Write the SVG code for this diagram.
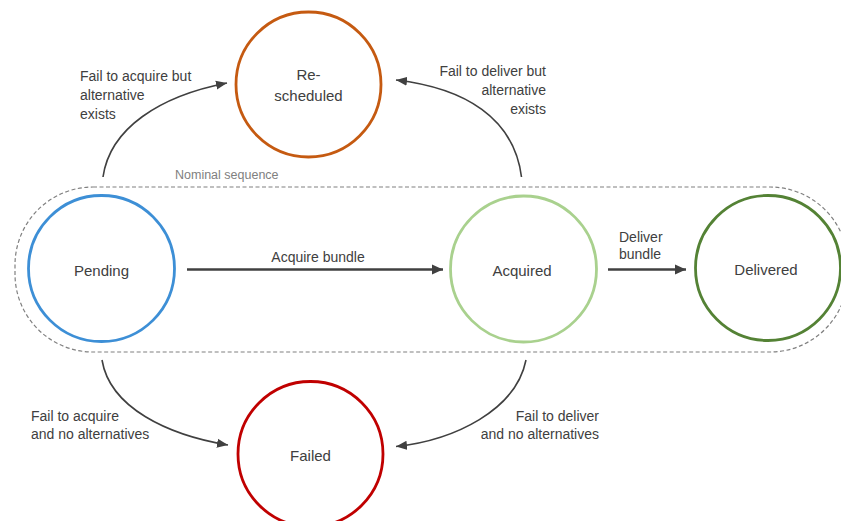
<svg xmlns="http://www.w3.org/2000/svg" width="841" height="521" viewBox="0 0 841 521">
<style>
text{font-family:"Liberation Sans",Arial,sans-serif;fill:#404040}
.node{font-size:15px;text-anchor:middle}
.lbl{font-size:14px}
.st{fill:#fff;stroke-width:2.8}
.curve{fill:none;stroke:#404040;stroke-width:1.6}
.line{fill:none;stroke:#404040;stroke-width:2.6}
</style>
<defs>
<marker id="ah" markerUnits="userSpaceOnUse" markerWidth="12" markerHeight="10" refX="11" refY="5" orient="auto"><path d="M0,0.5 L11,5 L0,9.5 z" fill="#404040"/></marker>
<marker id="ahb" markerUnits="userSpaceOnUse" markerWidth="12" markerHeight="12" refX="11" refY="6" orient="auto"><path d="M0,1 L11,6 L0,11 z" fill="#404040"/></marker>
</defs>
<rect width="841" height="521" fill="#fff"/>
<g id="nominal">
<rect x="15" y="187" width="833" height="165" rx="78" ry="78" fill="none" stroke="#808080" stroke-width="1.2" stroke-dasharray="4,2.5"/>
<text x="175" y="179" style="font-size:12.5px;fill:#808080">Nominal sequence</text>
</g>
<g id="connectors">
<path class="line" d="M187,269.5 L443,269.5" marker-end="url(#ahb)"/>
<text class="lbl" x="318" y="262" text-anchor="middle">Acquire bundle</text>
<path class="line" d="M608,269.5 L686,269.5" marker-end="url(#ahb)"/>
<text class="lbl" x="619" y="242">Deliver</text>
<text class="lbl" x="619" y="259">bundle</text>
<path class="curve" d="M103,177 C110,128 160,96 227,83" marker-end="url(#ah)"/>
<text class="lbl" x="80" y="81">Fail to acquire but</text>
<text class="lbl" x="80" y="100">alternative</text>
<text class="lbl" x="80" y="119">exists</text>
<path class="curve" d="M521.5,177 C514,118 465,88 396,80" marker-end="url(#ah)"/>
<text class="lbl" x="546" y="76" text-anchor="end">Fail to deliver but</text>
<text class="lbl" x="546" y="95" text-anchor="end">alternative</text>
<text class="lbl" x="546" y="114" text-anchor="end">exists</text>
<path class="curve" d="M102,360 C110,408 168,435 228,445" marker-end="url(#ah)"/>
<text class="lbl" x="31" y="421">Fail to acquire</text>
<text class="lbl" x="31" y="439">and no alternatives</text>
<path class="curve" d="M526,360 C516,410 455,440 396,446.5" marker-end="url(#ah)"/>
<text class="lbl" x="599" y="421" text-anchor="end">Fail to deliver</text>
<text class="lbl" x="599" y="439" text-anchor="end">and no alternatives</text>
</g>
<g id="rescheduled">
<circle class="st" cx="308.5" cy="84.5" r="72.5" stroke="#C55A11"/>
<text class="node" x="308.5" y="80">Re-</text>
<text class="node" x="308.5" y="101">scheduled</text>
</g>
<g id="pending">
<circle class="st" cx="101.5" cy="268.5" r="73" stroke="#3D8FD6"/>
<text class="node" x="101.5" y="276">Pending</text>
</g>
<g id="acquired">
<circle class="st" cx="523.5" cy="269" r="73" stroke="#A9D18E"/>
<text class="node" x="522" y="276">Acquired</text>
</g>
<g id="delivered">
<circle class="st" cx="768" cy="268" r="72.5" stroke="#548235"/>
<text class="node" x="766" y="275">Delivered</text>
</g>
<g id="failed">
<circle class="st" cx="310.5" cy="454" r="72.5" stroke="#C00000"/>
<text class="node" x="310.5" y="461">Failed</text>
</g>
</svg>
